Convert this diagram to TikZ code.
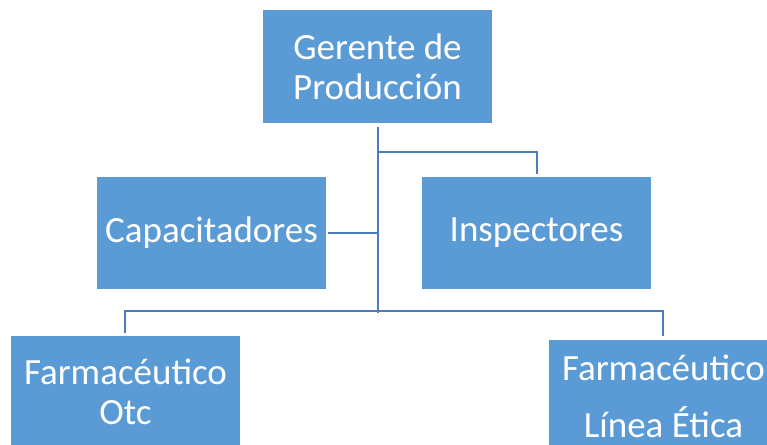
\documentclass[tikz,border=0pt]{standalone}
\usepackage{fontspec}
\setmainfont{Carlito}
\definecolor{boxblue}{HTML}{5B9BD5}
\definecolor{lineblue}{HTML}{4A7EBB}
\begin{document}
\begin{tikzpicture}[x=1pt,y=1pt,
  orgbox/.style={fill=boxblue,draw=none,text=white,minimum width=229pt,minimum height=112pt,
    inner sep=0pt,align=center,font=\fontsize{37}{40}\selectfont},
  conn/.style={draw=lineblue,line width=2pt}]
\useasboundingbox (0,0) rectangle (767,-444);
\node[orgbox,minimum height=113pt] (top) at (377.5,-66.5) {Gerente de\\Producción};
\node[orgbox] (cap) at (211.5,-233) {Capacitadores};
\node[orgbox] (ins) at (536.5,-233) {Inspectores};
\node[orgbox] (otc) at (125.5,-392) {Farmacéutico\\Otc};
\node[orgbox] (eti) at (663.5,-396) {Farmacéutico\\[17pt]Línea Ética};
\coordinate (t0) at (378,-127);
\coordinate (t1) at (378,-152);
\coordinate (t2) at (378,-233);
\coordinate (t3) at (378,-313);
\coordinate (r1) at (537,-152);
\coordinate (r2) at (537,-174);
\coordinate (c1) at (328,-233);
\coordinate (bl1) at (125,-311);
\coordinate (bl2) at (125,-333);
\coordinate (br1) at (663,-311);
\coordinate (br2) at (663,-336);
\draw[conn] (t0) -- (t3);
\draw[conn] (t1) -- (r1) -- (r2);
\draw[conn] (c1) -- (t2);
\draw[conn] (bl2) -- (bl1) -- (br1) -- (br2);
\end{tikzpicture}
\end{document}
